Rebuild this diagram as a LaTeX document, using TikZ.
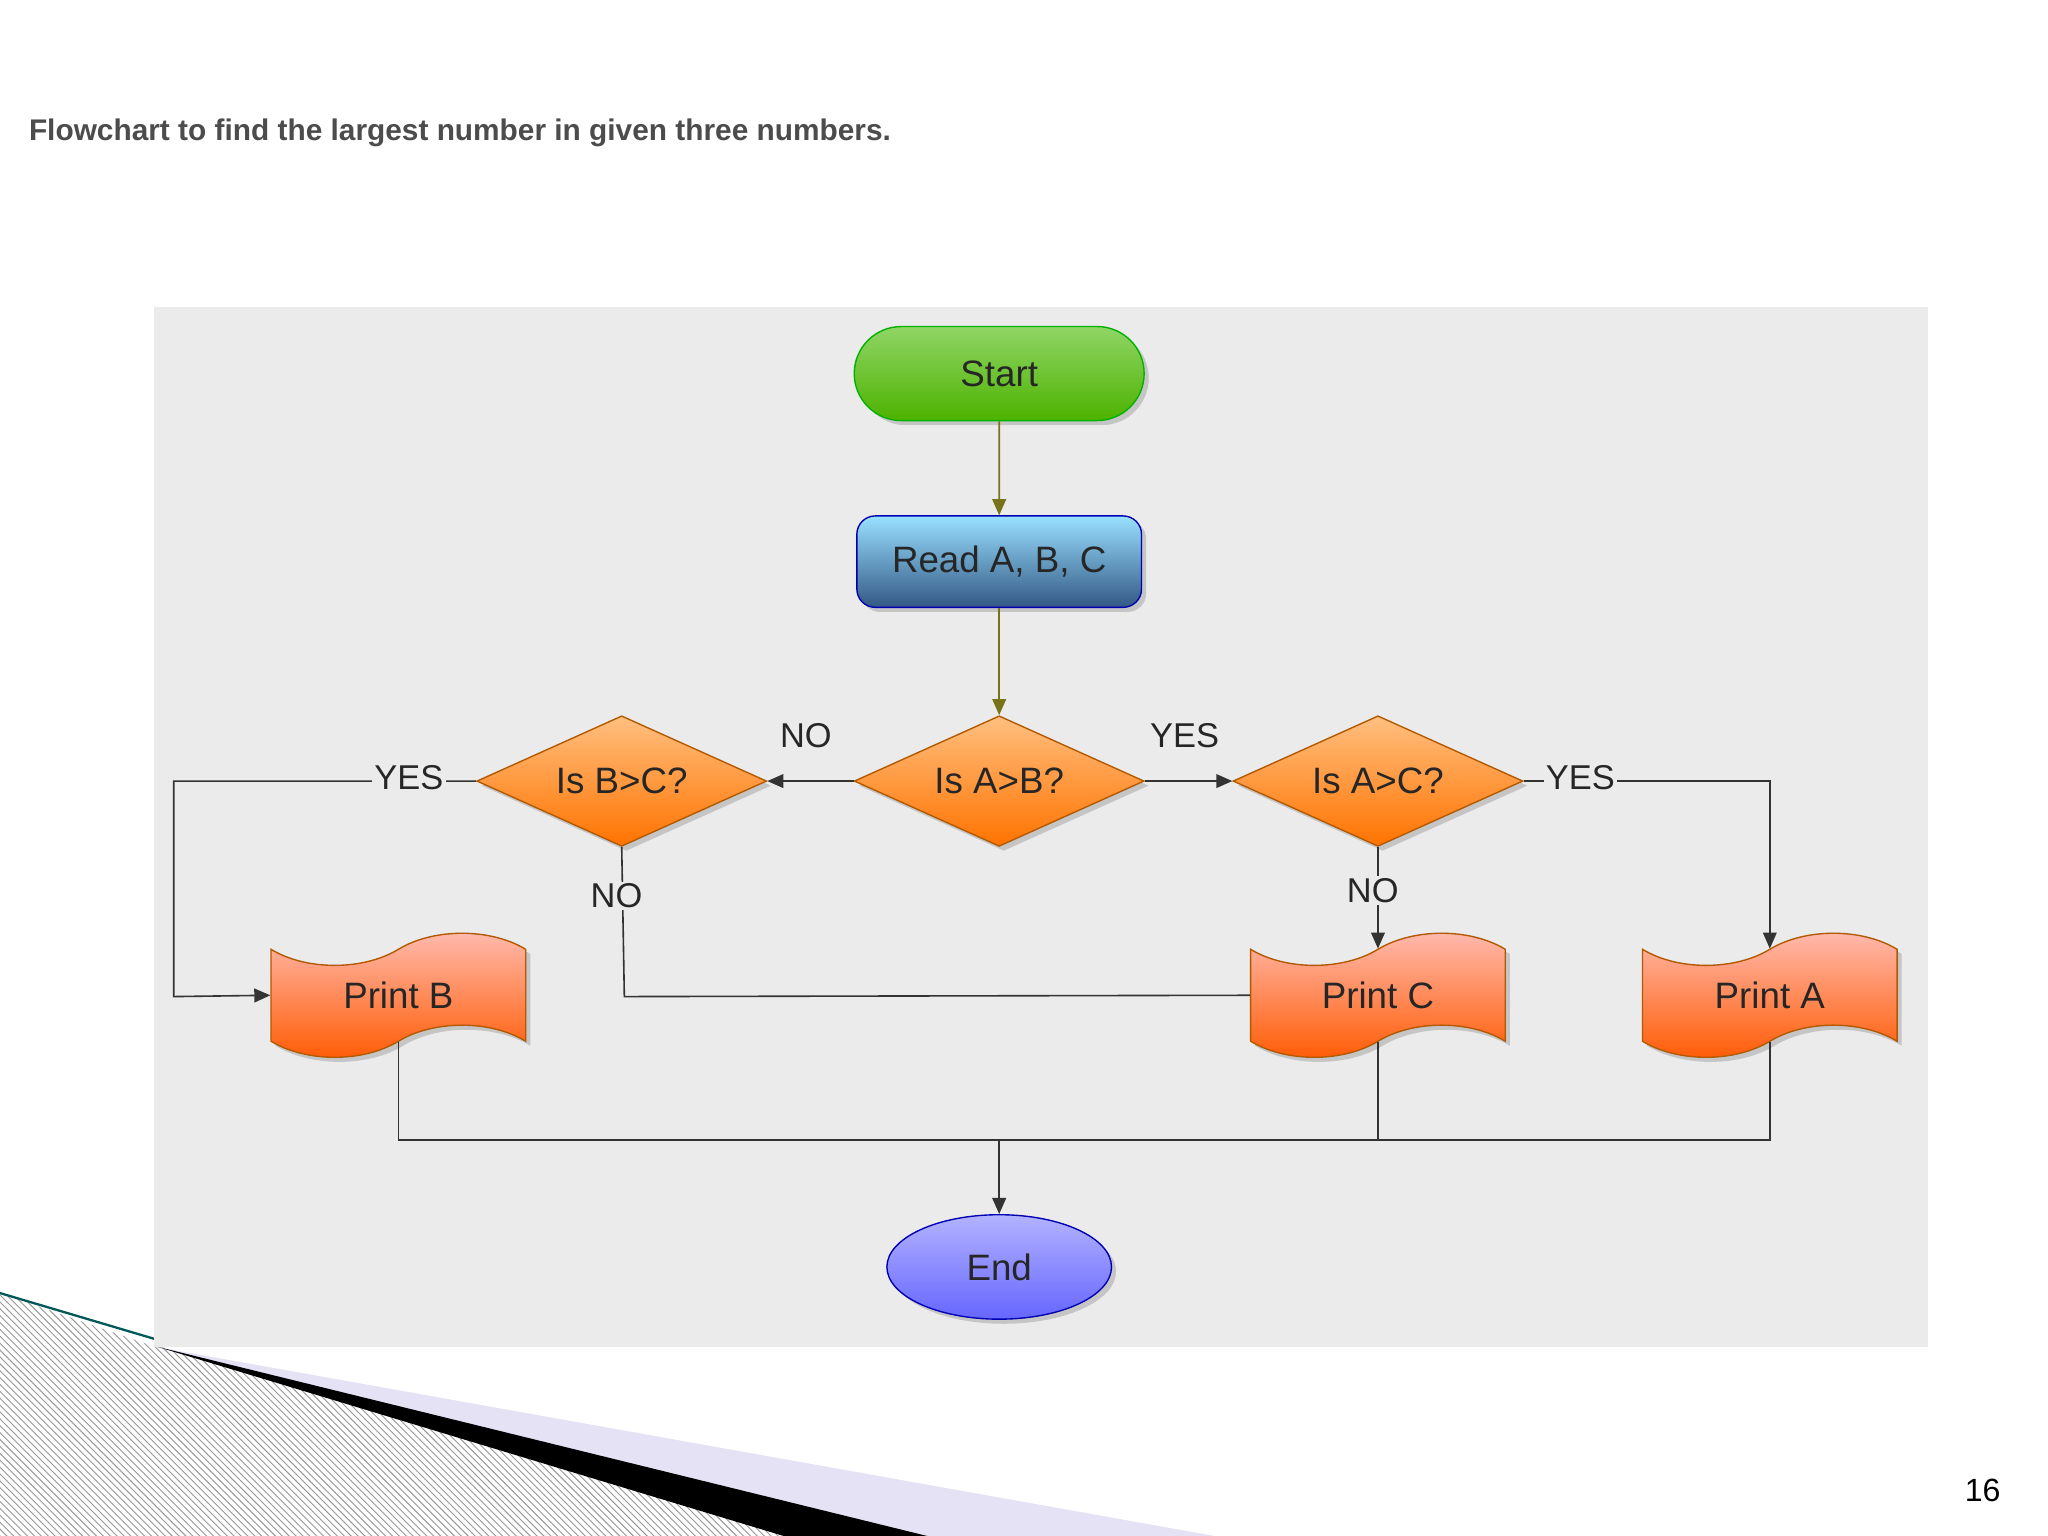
\documentclass[tikz,border=0pt]{standalone}
\usepackage{fontspec}
\setmainfont{Liberation Sans}
\usetikzlibrary{shapes.geometric,shapes.symbols,shapes.misc,shadows,arrows.meta,patterns}
\begin{document}
\begin{tikzpicture}[x=0.02cm,y=-0.02cm,
  base/.style={draw=#1!70!black, line width=0.6pt, drop shadow={opacity=0.35,shadow xshift=2pt,shadow yshift=-2pt}, font=\fontsize{16}{18}\selectfont, text=black!85, inner sep=0pt},
  term/.style={base=green, rounded rectangle, top color=green!45!olive!60!white, bottom color=green!40!olive, minimum width=4.44cm, minimum height=1.44cm},
  io/.style={base=blue, rounded corners=8pt, top color=blue!30!cyan!40!white, bottom color=blue!55!cyan!40!black!80, minimum width=4.36cm, minimum height=1.4cm},
  dec/.style={base=orange, diamond, aspect=2.2, top color=orange!50!white, bottom color=orange!90!red, minimum width=4.44cm, minimum height=2cm},
  prt/.style={base=orange, tape, tape bend top=in and out, tape bend bottom=in and out, tape bend height=14pt, top color=orange!25!red!30!white, bottom color=orange!70!red, minimum width=3.9cm, minimum height=1.9cm},
  endn/.style={base=blue, ellipse, top color=blue!30!white, bottom color=blue!60!white, minimum width=3.44cm, minimum height=1.6cm},
  con/.style={draw=black!80, line width=0.7pt},
  arr/.style={con, -{Triangle[length=7pt,width=6pt]}},
  garr/.style={draw=olive!80!black, line width=0.7pt, -{Triangle[length=7pt,width=6pt]}, fill=olive},
  lab/.style={font=\fontsize{15}{17}\selectfont, text=black!85, inner sep=1pt}]
\useasboundingbox (0,0) rectangle (1568,1176);
\fill[white] (0,0) rectangle (1568,1176);
% bottom-left decoration
\fill[pattern=north west lines, pattern color=black!40] (0,990) -- (118,1031) -- (118,1030) -- (700,1176) -- (0,1176) -- cycle;
\fill[cyan!15!blue!10!white] (118,1031) -- (930,1176) -- (700,1176) -- cycle;
\fill[black] (120,1031) -- (710,1176) -- (600,1176) -- cycle;
\draw[teal!70!black, line width=1pt] (0,990) -- (118,1025);
% panel
\fill[black!8] (118,235) rectangle (1476,1031);
\node[anchor=west, font=\bfseries\fontsize{13}{15}\selectfont, text=black!70] (title) at (16,102) {Flowchart to find the largest number in given three numbers.};
\node[font=\fontsize{14}{16}\selectfont] (pg) at (1518,1141) {16};
% nodes
\node[term] (start) at (765,286) {Start};
\node[io] (read) at (765,430) {Read A, B, C};
\node[dec] (ab) at (765,598) {Is A>B?};
\node[dec] (bc) at (476,598) {Is B>C?};
\node[dec] (ac) at (1055,598) {Is A>C?};
\node[prt] (pb) at (305,762) {Print B};
\node[prt] (pc) at (1055,762) {Print C};
\node[prt] (pa) at (1355,762) {Print A};
\node[endn] (end) at (765,970) {End};
% connectors
\draw[garr] (start) -- (read);
\draw[garr] (read) -- (ab);
\draw[arr] (ab) -- (bc);
\node[lab] (no1) at (617,563) {NO};
\draw[arr] (ab) -- (ac);
\node[lab] (yes1) at (907,563) {YES};
\coordinate (l1) at (133,598);
\coordinate (l2) at (133,763);
\draw[arr] (bc.west) -- (l1) -- (l2) -- (pb.west);
\node[lab, fill=black!8] (yes2) at (313,595) {YES};
\coordinate (n1) at (478,763);
\draw[con] (bc.south) -- (n1) -- (pc.west);
\node[lab, fill=black!8] (no2) at (472,686) {NO};
\draw[arr] (ac.south) -- (pc.north);
\node[lab, fill=black!8] (no3) at (1051,682) {NO};
\coordinate (r1) at (1355,598);
\draw[arr] (ac.east) -- (r1) -- (pa.north);
\node[lab, fill=black!8] (yes3) at (1210,595) {YES};
\coordinate (b1) at (305,873);
\coordinate (b2) at (1055,873);
\coordinate (b3) at (1355,873);
\coordinate (bm) at (765,873);
\draw[con] (pb.south) -- (b1) -- (b3) -- (pa.south);
\draw[con] (pc.south) -- (b2);
\draw[arr] (bm) -- (end.north);
\end{tikzpicture}
\end{document}
